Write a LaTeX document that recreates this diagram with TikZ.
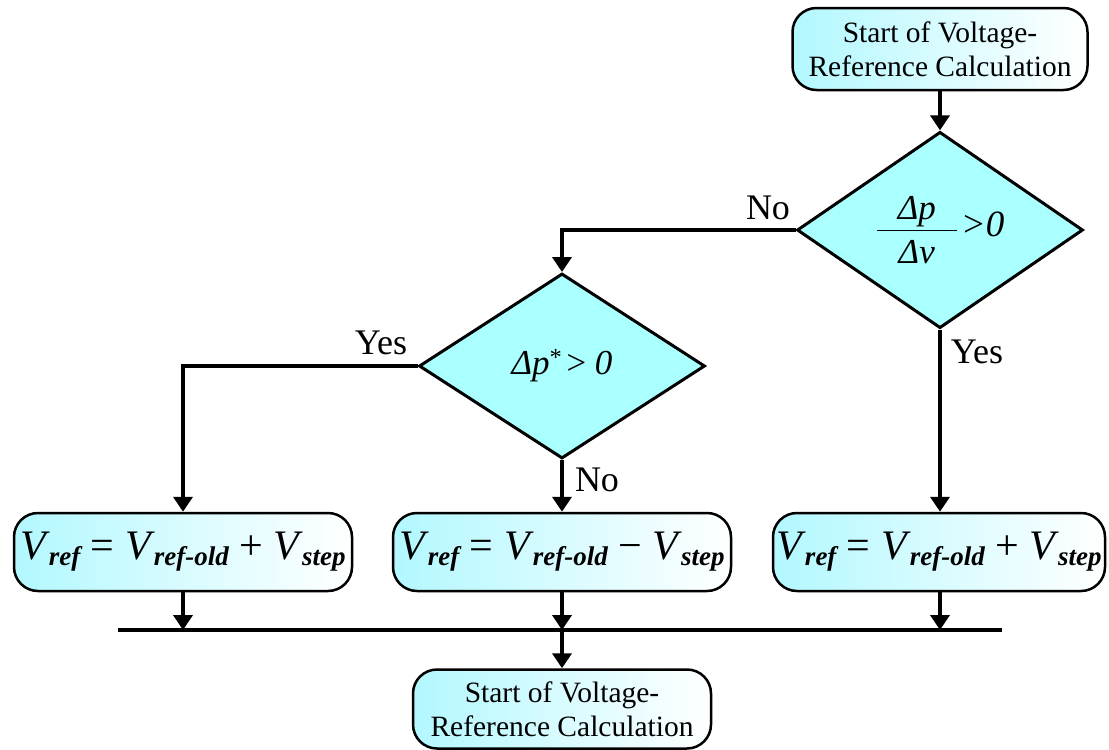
\documentclass[tikz,border=0pt]{standalone}
\usepackage{fontspec}
\setmainfont{Liberation Serif}
\usetikzlibrary{shapes.geometric,arrows.meta}
\definecolor{boxcyan}{RGB}{178,248,255}
\definecolor{diacyan}{RGB}{170,255,255}
% V with a bold italic subscript
\newcommand\Vsub[1]{\textit{V}\kern-1pt\raisebox{-6pt}{\fontsize{27}{27}\selectfont\bfseries\itshape #1}}
% fraction with a long bar
\newcommand\ratio[2]{$\displaystyle\frac{\hbox to 80pt{\hss\itshape #1\hss}}{\hbox to 80pt{\hss\itshape\rule{0pt}{32pt}#2\hss}}$}
\begin{document}
\begin{tikzpicture}[x=1pt,y=-1pt,
  txt/.style={font=\fontsize{29.5}{34}\selectfont},
  term/.style={draw, line width=2.5pt, rounded corners=24pt, left color=boxcyan,
    right color=white, inner sep=0pt, align=center, txt},
  dec/.style={draw, diamond, line width=3pt, fill=diacyan, inner sep=0pt,
    minimum width=286pt, minimum height=185pt},
  flow/.style={line width=4pt, -{Triangle[length=15pt,width=19pt]}},
  bus/.style={line width=4pt},
  lbl/.style={font=\fontsize{36}{36}\selectfont, inner sep=0pt},
  eq/.style={font=\fontsize{42}{42}\selectfont}]
\useasboundingbox (0,0) rectangle (1109,750);

% terminals and decisions
\node[term, minimum width=295pt, minimum height=82pt] (start) at (940,49)
  {Start of Voltage-\\Reference Calculation};
\node[dec] (d1) at (940,230)
  {{\fontsize{35}{38}\selectfont\ratio{Δp}{Δv}}\kern3pt{\fontsize{37}{37}\selectfont\itshape >0}};
\node[dec] (d2) at (562,366)
  {\fontsize{35}{35}\selectfont\textit{Δp}\textsuperscript{*}\kern2pt\textit{>}\kern7pt\textit{0}};

% update blocks
\node[term, eq, minimum width=338pt, minimum height=78pt] (b1) at (183,552)
  {\Vsub{ref} = \Vsub{ref-old} + \Vsub{step}};
\node[term, eq, minimum width=338pt, minimum height=78pt] (b2) at (562,552)
  {\Vsub{ref} = \Vsub{ref-old} − \Vsub{step}};
\node[term, eq, minimum width=332pt, minimum height=78pt] (b3) at (939,552)
  {\Vsub{ref} = \Vsub{ref-old} + \Vsub{step}};

\node[term, minimum width=298pt, minimum height=79pt] (stop) at (562,709)
  {Start of Voltage-\\Reference Calculation};

% merging bus
\coordinate (busL) at (118,630);
\coordinate (busR) at (1002,630);

% connectors
\draw[flow] (start.south) -- (d1.north);
\draw[flow] (d1.west) -| (d2.north);
\draw[flow] (d2.west) -| (b1.north);
\draw[flow] (d2.south) -- (b2.north);
\draw[flow] (d1.south) -- (d1.south |- b3.north);
\draw[bus] (busL) -- (busR);
\draw[flow] (b1.south) -- (b1.south |- busL);
\draw[flow] (b2.south) -- (b2.south |- busL);
\draw[flow] (d1.south |- b3.south) -- (d1.south |- busL);
\draw[flow] (stop.north |- busL) -- (stop.north);

% branch labels
\node[lbl] (no1) at (768,208) {No};
\node[lbl] (yes2) at (381,343) {Yes};
\node[lbl] (yes1) at (977,352) {Yes};
\node[lbl] (no2) at (597,480) {No};
\end{tikzpicture}
\end{document}
